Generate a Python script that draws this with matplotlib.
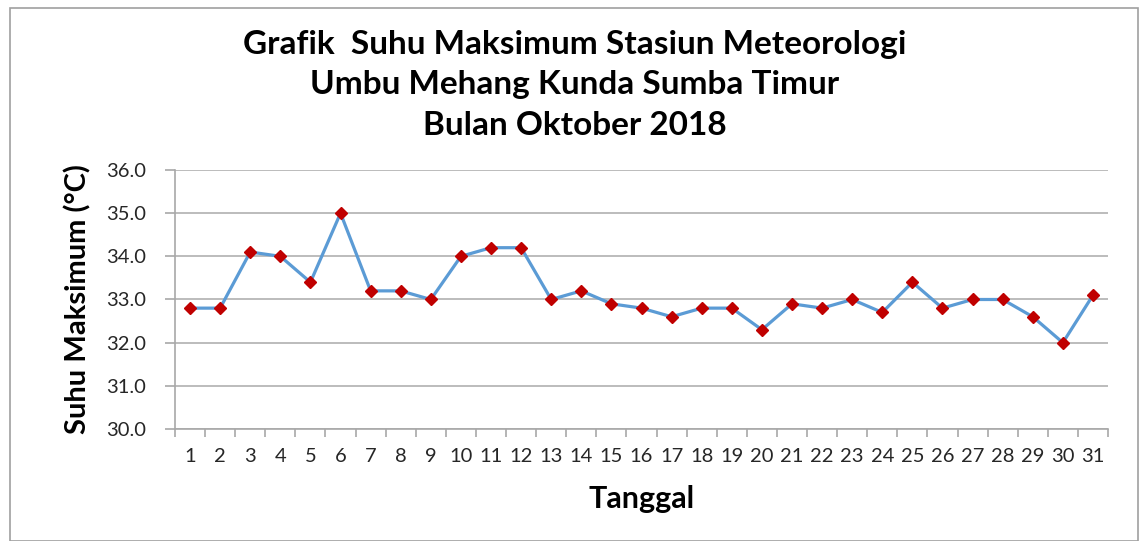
import matplotlib.pyplot as plt
from matplotlib.patches import Rectangle

# Data: daily maximum temperature, October 2018
days = list(range(1, 32))
tmax = [32.8, 32.8, 34.1, 34.0, 33.4, 35.0, 33.2, 33.2, 33.0, 34.0,
        34.2, 34.2, 33.0, 33.2, 32.9, 32.8, 32.6, 32.8, 32.8, 32.3,
        32.9, 32.8, 33.0, 32.7, 33.4, 32.8, 33.0, 33.0, 32.6, 32.0, 33.1]
yticks = [30.0, 31.0, 32.0, 33.0, 34.0, 35.0, 36.0]

plt.rcParams['font.family'] = ['Lato', 'DejaVu Sans']

fig = plt.figure(figsize=(11.43, 5.41), dpi=100)
fig.set_facecolor('white')
ax = fig.add_axes([0.1531, 0.2070, 0.8163, 0.4788])

# outer chart frame
fig.patches.append(Rectangle((10 / 1143, 0.0), 1128 / 1143, 533 / 541, transform=fig.transFigure,
                             fill=False, edgecolor='#a0a0a0', linewidth=1.2))

ax.plot(days, tmax, color='#5b9bd5', linewidth=2.3, zorder=3,
        marker='D', markersize=6.5, markerfacecolor='#c00000', markeredgecolor='#c00000')

ax.set_xlim(0.5, 31.5)
ax.set_ylim(30.0, 36.0)
ax.set_yticks(yticks)
ax.set_yticklabels([f'{v:.1f}' for v in yticks])
ax.set_xticks(days)
ax.set_xticklabels([str(d) for d in days])
ax.set_xticks([d + 0.5 for d in range(0, 32)], minor=True)

ax.grid(axis='y', color='#b0b0b0', linewidth=1.2)
ax.set_axisbelow(True)
for s in ['top', 'right']:
    ax.spines[s].set_visible(False)
for s in ['left', 'bottom']:
    ax.spines[s].set_color('#a8a8a8')
    ax.spines[s].set_linewidth(1.2)

ax.tick_params(axis='x', which='major', length=0, pad=14, labelsize=14.5, labelcolor='#262626')
ax.tick_params(axis='x', which='minor', length=6, color='#a8a8a8', width=1.2, direction='out')
ax.tick_params(axis='y', length=7, color='#a8a8a8', width=1.2, pad=14, labelsize=14.5, labelcolor='#262626')

ax.set_xlabel('Tanggal', fontsize=22, fontweight='bold', labelpad=14)
ax.set_ylabel('Suhu Maksimum (°C)', fontsize=21, fontweight='bold', labelpad=10)

fig.text(0.503, 0.843, 'Grafik  Suhu Maksimum Stasiun Meteorologi\nUmbu Mehang Kunda Sumba Timur\nBulan Oktober 2018',
         ha='center', va='center', fontsize=24, fontweight='bold', linespacing=1.47)

fig.savefig('out.png', dpi=100)
